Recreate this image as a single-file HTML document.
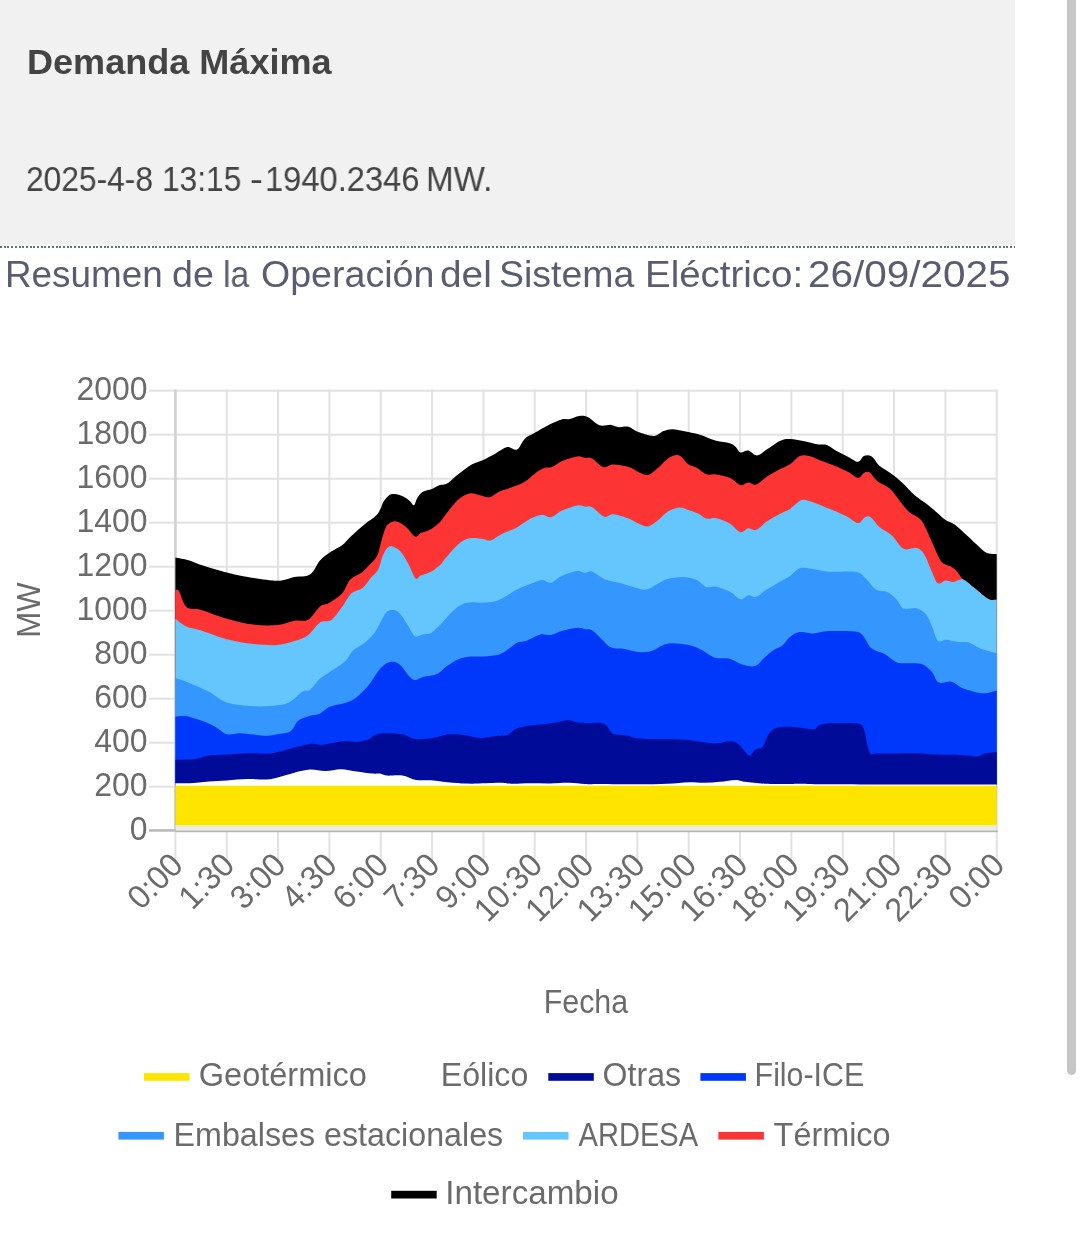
<!DOCTYPE html>
<html>
<head>
<meta charset="utf-8">
<style>
html,body{margin:0;padding:0;background:#fff;}
body{width:1080px;height:1252px;position:relative;overflow:hidden;font-family:"Liberation Sans",sans-serif;}
#panel{position:absolute;left:0;top:0;width:1015px;height:245.4px;background:#f1f1f1;}
#dots{position:absolute;left:0;top:246.2px;width:1015px;height:1.8px;background:repeating-linear-gradient(90deg,#62756b 0,#62756b 2px,rgba(255,255,255,0) 2px,rgba(255,255,255,0) 3.7px);}
.t{position:absolute;white-space:nowrap;transform-origin:0 0;line-height:1;will-change:transform;}
#h1{left:26.5px;top:45.2px;font-size:34.5px;font-weight:bold;color:#444;transform:scaleX(1.045);}
.h2w{top:161.9px;font-size:34.8px;color:#444;}
.h3w{top:256.6px;font-size:36.5px;color:#5a5d71;}
#sb{position:absolute;left:1067px;top:0;width:9px;height:1075px;background:#c6c6c6;border-radius:0 0 4.5px 4.5px;}
svg{position:absolute;left:0;top:0;will-change:transform;}
svg text{font-family:"Liberation Sans",sans-serif;fill:#6b6b6b;}
</style>
</head>
<body>
<div id="panel"></div>
<div id="dots"></div>
<div class="t" id="h1">Demanda Máxima</div>
<div class="t h2w" style="left:26.2px;transform:scaleX(0.9118)">2025-4-8</div>
<div class="t h2w" style="left:161.7px;transform:scaleX(0.9108)">13:15</div>
<div class="t h2w" style="left:249.9px;transform:scaleX(1.1200)">-</div>
<div class="t h2w" style="left:264.8px;transform:scaleX(0.9387)">1940.2346</div>
<div class="t h2w" style="left:426.0px;transform:scaleX(0.9524)">MW.</div>
<div class="t h3w" style="left:4.8px;transform:scaleX(1.0093)">Resumen</div>
<div class="t h3w" style="left:171.8px;transform:scaleX(1.0297)">de</div>
<div class="t h3w" style="left:222.9px;transform:scaleX(0.9269)">la</div>
<div class="t h3w" style="left:260.5px;transform:scaleX(1.0293)">Operación</div>
<div class="t h3w" style="left:440.1px;transform:scaleX(1.0636)">del</div>
<div class="t h3w" style="left:499.3px;transform:scaleX(1.0262)">Sistema</div>
<div class="t h3w" style="left:644.8px;transform:scaleX(1.0535)">Eléctrico:</div>
<div class="t h3w" style="left:808.4px;transform:scaleX(1.1084)">26/09/2025</div>
<div id="sb"></div>
<svg id="chart" width="1080" height="1252" viewBox="0 0 1080 1252">
<!--GRID-->
<rect x="149" y="389.7" width="848.7" height="2" fill="#e2e2e2"/>
<rect x="149" y="433.7" width="848.7" height="2" fill="#e2e2e2"/>
<rect x="149" y="477.7" width="848.7" height="2" fill="#e2e2e2"/>
<rect x="149" y="521.7" width="848.7" height="2" fill="#e2e2e2"/>
<rect x="149" y="565.7" width="848.7" height="2" fill="#e2e2e2"/>
<rect x="149" y="609.7" width="848.7" height="2" fill="#e2e2e2"/>
<rect x="149" y="653.7" width="848.7" height="2" fill="#e2e2e2"/>
<rect x="149" y="697.7" width="848.7" height="2" fill="#e2e2e2"/>
<rect x="149" y="741.7" width="848.7" height="2" fill="#e2e2e2"/>
<rect x="149" y="785.7" width="848.7" height="2" fill="#e2e2e2"/>
<rect x="149" y="829.7" width="848.7" height="2" fill="#e2e2e2"/>
<rect x="174.4" y="389.4" width="2" height="471.1" fill="#e2e2e2"/>
<rect x="225.7" y="389.4" width="2" height="471.1" fill="#e2e2e2"/>
<rect x="277.1" y="389.4" width="2" height="471.1" fill="#e2e2e2"/>
<rect x="328.4" y="389.4" width="2" height="471.1" fill="#e2e2e2"/>
<rect x="379.7" y="389.4" width="2" height="471.1" fill="#e2e2e2"/>
<rect x="431.1" y="389.4" width="2" height="471.1" fill="#e2e2e2"/>
<rect x="482.4" y="389.4" width="2" height="471.1" fill="#e2e2e2"/>
<rect x="533.7" y="389.4" width="2" height="471.1" fill="#e2e2e2"/>
<rect x="585.1" y="389.4" width="2" height="471.1" fill="#e2e2e2"/>
<rect x="636.4" y="389.4" width="2" height="471.1" fill="#e2e2e2"/>
<rect x="687.7" y="389.4" width="2" height="471.1" fill="#e2e2e2"/>
<rect x="739.0" y="389.4" width="2" height="471.1" fill="#e2e2e2"/>
<rect x="790.4" y="389.4" width="2" height="471.1" fill="#e2e2e2"/>
<rect x="841.7" y="389.4" width="2" height="471.1" fill="#e2e2e2"/>
<rect x="893.0" y="389.4" width="2" height="471.1" fill="#e2e2e2"/>
<rect x="944.4" y="389.4" width="2" height="471.1" fill="#e2e2e2"/>
<rect x="995.7" y="389.4" width="2" height="471.1" fill="#e2e2e2"/>
<rect x="174.2" y="389.4" width="2.4" height="441.0" fill="#cfcfcf"/>
<!--/GRID-->
<!--AREAS-->
<path d="M175.4 557.5C177.7 558.0 185.1 559.2 189.4 560.4C193.7 561.6 194.9 562.9 201.1 564.9C207.3 566.9 219.0 570.5 226.8 572.5C234.6 574.5 239.4 575.6 247.8 577.0C256.2 578.4 269.7 580.8 277.5 580.8C285.3 580.8 289.0 578.0 294.4 577.0C299.8 576.0 305.7 577.4 310.0 574.6C314.3 571.9 316.5 564.3 320.0 560.5C323.5 556.7 327.5 554.2 331.2 551.6C334.9 549.0 339.0 547.5 342.4 544.9C345.8 542.3 347.6 539.3 351.3 535.9C355.0 532.5 360.6 527.6 364.7 524.2C368.8 520.9 373.3 518.3 375.9 515.8C378.5 513.3 379.1 511.5 380.4 509.1C381.7 506.7 382.3 503.6 383.8 501.3C385.3 499.0 387.5 496.3 389.4 495.1C391.2 493.9 392.7 493.8 394.9 494.0C397.1 494.2 400.4 495.1 402.8 496.2C405.2 497.3 407.6 499.2 409.5 500.7C411.4 502.2 412.7 505.7 414.0 505.2C415.3 504.7 415.8 500.1 417.3 497.9C418.8 495.6 420.5 493.2 422.9 491.7C425.3 490.2 429.0 490.0 431.9 488.9C434.8 487.8 437.5 485.9 440.0 485.0C442.5 484.1 443.9 485.5 447.0 483.6C450.1 481.8 454.4 477.1 458.6 473.9C462.8 470.7 468.1 466.5 472.2 464.2C476.3 461.9 479.4 461.7 483.3 459.9C487.2 458.1 491.6 455.6 495.6 453.5C499.6 451.4 503.6 447.8 507.2 447.1C510.8 446.5 514.1 451.0 517.0 449.6C519.9 448.2 521.8 441.6 524.7 438.9C527.6 436.1 530.2 435.5 534.4 433.1C538.6 430.7 545.5 426.6 550.0 424.3C554.5 422.0 558.5 420.3 561.7 419.4C564.9 418.5 566.5 419.7 569.4 419.1C572.3 418.5 576.1 416.2 579.2 415.9C582.3 415.6 584.4 415.5 587.8 417.1C591.2 418.7 595.5 424.0 599.4 425.3C603.3 426.6 607.9 424.6 611.1 424.9C614.4 425.2 616.0 426.9 618.9 427.2C621.8 427.5 625.4 426.0 628.6 426.8C631.8 427.6 634.1 430.6 638.3 432.1C642.5 433.6 649.7 436.2 653.9 436.0C658.1 435.8 660.4 432.2 663.6 431.1C666.8 430.0 669.2 429.0 673.3 429.2C677.4 429.4 683.8 431.1 688.3 432.1C692.8 433.1 696.0 433.6 700.6 435.0C705.2 436.4 711.2 439.4 716.1 440.8C721.0 442.2 726.5 442.2 729.7 443.2C733.0 444.2 733.8 445.1 735.6 446.7C737.4 448.2 738.3 451.9 740.4 452.5C742.5 453.1 745.5 450.1 748.2 450.6C751.0 451.1 753.8 455.6 756.9 455.4C760.0 455.2 762.8 452.0 766.7 449.6C770.6 447.2 776.4 442.6 780.3 440.8C784.2 439.0 785.8 438.8 790.0 438.9C794.2 439.0 801.1 440.5 805.6 441.4C810.1 442.3 813.7 443.7 817.2 444.3C820.8 444.9 823.6 443.8 826.9 444.9C830.1 446.0 833.1 449.1 836.7 451.1C840.3 453.1 844.7 455.1 848.3 456.9C851.9 458.7 855.5 461.9 858.1 461.8C860.7 461.7 861.6 456.9 863.9 456.0C866.2 455.1 869.1 455.0 871.7 456.6C874.3 458.2 876.2 462.9 879.4 465.7C882.6 468.5 887.2 470.6 891.1 473.5C895.0 476.4 898.9 479.6 902.8 483.2C906.7 486.8 910.5 491.5 914.4 494.9C918.3 498.3 922.2 500.5 926.1 503.6C930.0 506.7 934.5 510.5 937.8 513.3C941.0 516.0 942.7 518.1 945.6 520.1C948.5 522.1 952.1 522.7 955.3 525.0C958.5 527.3 961.4 530.5 965.0 533.7C968.6 536.9 973.1 541.2 976.7 544.4C980.3 547.6 983.1 551.2 986.4 552.8C989.7 554.4 995.0 554.0 996.7 554.2L996.7 830.4L175.4 830.4Z" fill="#000000"/>
<path d="M175.4 590.6C175.9 590.6 176.8 587.9 178.7 590.6C180.5 593.4 182.8 603.9 186.5 607.1C190.2 610.3 194.4 608.1 201.1 610.0C207.8 611.9 218.1 616.3 226.8 618.7C235.6 621.1 245.2 623.6 253.6 624.6C262.1 625.6 270.7 625.6 277.5 625.0C284.3 624.4 289.3 621.6 294.4 620.7C299.5 619.8 303.7 622.1 308.0 619.7C312.3 617.3 316.5 609.2 320.0 606.4C323.5 603.6 325.2 605.2 328.9 603.0C332.6 600.8 338.8 596.9 342.4 593.0C345.9 589.1 347.0 583.0 350.2 579.6C353.4 576.2 358.2 575.2 361.4 572.8C364.6 570.4 366.6 567.8 369.2 565.0C371.8 562.2 374.9 560.2 377.0 556.1C379.1 552.0 380.0 545.2 381.5 540.4C383.0 535.5 384.3 530.1 386.0 527.0C387.7 523.9 389.6 522.8 391.6 521.9C393.7 521.0 395.9 521.0 398.3 521.9C400.7 522.8 403.3 524.6 406.1 527.0C408.9 529.4 412.7 535.5 415.1 536.5C417.5 537.5 418.1 534.3 420.7 533.1C423.3 531.9 427.5 531.1 430.7 529.2C433.9 527.3 437.3 524.6 440.0 521.9C442.7 519.2 443.9 516.6 447.0 512.8C450.1 509.0 454.7 502.4 458.6 499.2C462.5 495.9 466.7 493.9 470.3 493.3C473.9 492.7 476.8 494.7 480.0 495.3C483.2 495.9 486.5 497.9 489.7 497.2C492.9 496.5 495.8 493.0 499.4 491.4C503.0 489.8 506.9 489.1 511.1 487.5C515.3 485.9 520.8 484.0 524.7 481.7C528.6 479.4 531.1 476.2 534.4 473.9C537.6 471.6 541.3 469.2 544.2 468.1C547.1 467.0 549.0 468.2 551.9 467.1C554.8 466.0 557.5 463.0 561.7 461.2C565.9 459.4 573.3 456.9 577.2 456.4C581.1 455.8 582.6 457.6 585.0 457.9C587.4 458.2 588.7 456.8 591.7 458.3C594.8 459.8 599.7 466.1 603.3 467.1C606.9 468.2 608.9 464.6 613.1 464.6C617.3 464.6 624.4 465.9 628.6 467.1C632.8 468.3 635.0 470.6 638.3 471.9C641.5 473.2 644.9 475.5 648.1 474.9C651.4 474.3 654.2 471.0 657.8 468.1C661.3 465.2 665.8 459.5 669.4 457.4C673.0 455.3 676.1 454.3 679.2 455.4C682.4 456.5 685.4 462.1 688.3 464.2C691.2 466.2 693.7 466.0 696.7 467.7C699.7 469.4 703.2 473.2 706.4 474.3C709.6 475.4 712.2 473.9 716.1 474.5C720.0 475.1 725.7 476.1 729.7 477.8C733.8 479.6 737.3 484.2 740.4 485.0C743.5 485.8 745.6 482.7 748.2 482.6C750.8 482.5 752.9 485.6 756.0 484.6C759.1 483.6 763.0 479.2 766.7 476.8C770.4 474.4 774.4 472.1 778.3 470.0C782.2 467.9 786.4 466.5 790.0 464.2C793.6 461.9 796.5 457.4 799.7 456.0C802.9 454.6 806.1 455.4 809.4 456.0C812.6 456.6 815.0 458.3 819.2 459.9C823.4 461.5 829.9 463.7 834.7 465.7C839.6 467.7 844.4 470.1 848.3 472.1C852.2 474.1 855.5 477.8 858.1 477.9C860.7 478.0 862.0 473.8 863.9 472.9C865.8 472.0 867.4 471.1 869.7 472.5C872.0 473.9 874.2 478.6 877.5 481.2C880.8 483.8 885.6 485.0 889.2 488.1C892.8 491.2 895.7 495.8 898.9 499.7C902.1 503.6 905.0 508.1 908.6 511.4C912.2 514.6 917.4 516.3 920.3 519.2C923.2 522.1 923.8 524.4 926.1 528.9C928.4 533.4 931.3 540.9 933.9 546.4C936.5 551.9 938.8 558.5 941.7 561.9C944.6 565.3 948.8 565.2 951.4 566.8C954.0 568.4 955.3 569.6 957.2 571.7C959.1 573.8 960.1 576.6 963.0 579.4C965.9 582.1 970.5 585.0 974.7 588.2C978.9 591.5 984.6 597.0 988.3 598.9C992.0 600.8 995.3 599.7 996.7 599.9L996.7 830.4L175.4 830.4Z" fill="#fd3434"/>
<path d="M175.4 618.7C177.2 620.0 182.2 624.5 186.5 626.5C190.8 628.5 194.4 628.3 201.1 630.4C207.8 632.5 218.1 636.9 226.8 639.2C235.6 641.5 245.2 643.0 253.6 644.0C262.1 645.0 270.7 645.5 277.5 645.0C284.3 644.5 289.3 642.7 294.4 641.1C299.5 639.5 303.7 638.4 308.0 635.3C312.3 632.2 316.1 625.0 320.0 622.5C323.9 620.0 327.5 622.7 331.2 620.0C334.9 617.3 339.0 610.8 342.4 606.4C345.8 602.0 347.9 596.6 351.3 593.5C354.7 590.4 359.3 590.4 362.5 587.9C365.7 585.4 367.7 581.5 370.3 578.4C372.9 575.3 376.1 573.2 378.2 569.5C380.2 565.8 381.1 559.6 382.6 556.1C384.1 552.6 385.4 549.8 387.1 548.2C388.8 546.6 390.5 546.0 392.7 546.6C394.9 547.2 397.9 548.7 400.5 551.6C403.1 554.5 405.9 559.4 408.4 563.9C410.9 568.4 413.6 576.4 415.6 578.4C417.7 580.4 418.0 576.8 420.7 575.6C423.4 574.4 428.7 573.0 431.9 571.2C435.1 569.4 438.1 566.6 440.0 565.0C441.9 563.4 440.9 563.9 443.0 561.4C445.1 558.9 449.6 553.1 452.8 549.7C456.1 546.3 459.3 543.0 462.5 541.0C465.7 539.0 468.7 538.3 472.2 538.0C475.7 537.7 480.2 538.6 483.3 539.0C486.4 539.4 487.7 541.2 490.7 540.4C493.7 539.6 497.0 536.4 501.4 534.2C505.8 532.0 512.1 530.0 517.0 527.4C521.9 524.8 526.4 520.7 530.6 518.6C534.8 516.5 538.8 514.9 542.2 514.7C545.6 514.5 547.8 517.9 551.0 517.2C554.2 516.6 557.3 512.8 561.7 510.8C566.1 508.8 573.3 506.1 577.2 505.4C581.1 504.7 582.6 506.4 585.0 506.6C587.4 506.9 588.5 505.2 591.7 506.9C594.9 508.6 600.7 515.5 604.3 516.7C607.9 517.9 609.0 514.0 613.1 514.3C617.2 514.6 624.4 517.1 628.6 518.6C632.8 520.1 635.0 522.2 638.3 523.5C641.5 524.8 644.9 526.9 648.1 526.4C651.4 525.9 654.6 523.0 657.8 520.6C661.0 518.2 663.9 514.0 667.5 511.8C671.1 509.6 675.7 507.8 679.2 507.5C682.7 507.2 685.1 508.9 688.3 509.9C691.5 510.9 695.6 512.2 698.6 513.7C701.6 515.2 703.5 517.9 706.4 518.6C709.3 519.4 712.2 517.4 716.1 518.2C720.0 519.0 725.7 521.2 729.7 523.5C733.8 525.8 737.3 531.4 740.4 532.2C743.5 533.0 745.6 528.7 748.2 528.3C750.8 527.9 752.9 531.0 756.0 529.9C759.1 528.8 763.0 524.0 766.7 521.5C770.4 519.0 774.4 516.8 778.3 514.7C782.2 512.6 786.1 511.3 790.0 508.9C793.9 506.5 798.1 501.3 801.7 500.1C805.3 498.9 806.9 500.3 811.4 501.7C815.9 503.1 823.1 506.1 828.9 508.5C834.7 510.9 841.5 513.8 846.4 516.2C851.3 518.6 855.0 522.9 858.1 523.1C861.2 523.3 862.8 518.2 864.9 517.2C867.0 516.2 868.3 515.6 870.7 517.2C873.1 518.8 876.0 524.0 879.4 526.9C882.8 529.8 887.0 531.1 891.1 534.7C895.2 538.3 899.5 546.5 903.7 548.7C907.9 550.9 913.0 547.0 916.4 547.9C919.8 548.8 921.6 550.2 924.2 554.2C926.8 558.2 929.6 566.9 931.9 571.7C934.2 576.6 935.5 581.8 937.8 583.3C940.1 584.8 943.0 580.6 945.6 580.4C948.2 580.2 950.4 582.2 953.3 582.0C956.2 581.8 959.4 578.4 963.0 579.4C966.6 580.4 970.5 585.0 974.7 588.2C978.9 591.5 984.6 597.0 988.3 598.9C992.0 600.8 995.3 599.7 996.7 599.9L996.7 830.4L175.4 830.4Z" fill="#65c6fe"/>
<path d="M175.4 678.0C177.7 678.8 183.8 680.6 189.4 682.9C195.0 685.2 202.7 688.5 208.9 691.7C215.1 695.0 219.4 700.0 226.8 702.4C234.2 704.8 245.2 705.7 253.6 706.2C262.1 706.7 271.3 706.1 277.5 705.3C283.7 704.5 286.5 703.7 290.6 701.4C294.7 699.1 299.0 693.7 302.2 691.7C305.4 689.8 307.1 691.8 310.0 689.7C312.9 687.6 316.5 681.9 319.7 679.0C322.9 676.1 325.2 675.1 329.4 672.2C333.6 669.3 341.1 665.1 345.0 661.5C348.9 657.9 349.6 653.9 352.8 650.8C356.0 647.7 360.8 645.9 364.4 643.0C368.0 640.1 371.5 636.8 374.2 633.3C376.9 629.8 378.7 625.3 380.8 621.7C382.9 618.1 384.6 613.9 386.7 611.9C388.8 609.9 391.2 609.7 393.5 610.0C395.8 610.3 397.9 611.3 400.3 613.9C402.7 616.5 405.6 621.9 408.0 625.6C410.4 629.3 412.3 634.8 414.9 636.2C417.5 637.7 420.8 634.9 423.6 634.3C426.4 633.7 428.6 634.5 431.8 632.4C435.0 630.3 439.5 625.3 443.0 621.7C446.5 618.1 449.6 613.9 452.8 611.0C456.1 608.1 459.3 605.7 462.5 604.2C465.7 602.7 468.7 602.5 472.2 602.2C475.7 601.9 479.4 602.8 483.3 602.6C487.2 602.4 491.6 602.4 495.6 601.2C499.6 600.0 503.6 597.3 507.2 595.4C510.8 593.5 513.1 591.5 517.0 589.6C520.9 587.7 526.4 585.4 530.6 583.8C534.8 582.2 538.8 580.1 542.2 579.9C545.6 579.7 547.8 583.4 551.0 582.8C554.2 582.1 557.3 578.0 561.7 576.0C566.1 574.0 573.3 571.6 577.2 571.1C581.1 570.6 582.6 573.0 585.0 573.1C587.4 573.2 588.5 570.5 591.7 571.5C594.9 572.5 599.8 577.0 604.3 578.9C608.8 580.8 614.2 581.5 618.9 582.8C623.6 584.1 628.0 585.6 632.5 586.7C637.0 587.8 641.9 590.1 646.1 589.6C650.3 589.1 654.2 585.6 657.8 583.8C661.4 582.0 663.3 580.0 667.5 578.9C671.7 577.8 678.1 576.7 683.0 576.9C687.9 577.1 692.8 578.2 696.7 579.9C700.6 581.6 703.2 585.9 706.4 587.0C709.6 588.1 712.2 586.0 716.1 586.7C720.0 587.5 725.7 589.4 729.7 591.5C733.8 593.6 737.3 598.6 740.4 599.3C743.5 599.9 745.6 595.8 748.2 595.4C750.8 595.0 752.9 597.8 756.0 596.8C759.1 595.8 763.0 591.9 766.7 589.6C770.4 587.3 774.4 585.1 778.3 582.8C782.2 580.5 786.4 578.4 790.0 576.0C793.6 573.6 796.1 569.4 799.7 568.2C803.3 567.0 806.5 568.1 811.4 568.7C816.3 569.3 821.4 571.2 828.9 571.7C836.4 572.2 850.0 570.9 856.1 572.0C862.2 573.1 862.5 575.6 865.8 578.5C869.0 581.4 872.0 586.9 875.6 589.2C879.2 591.5 883.7 590.3 887.2 592.1C890.8 593.9 894.1 597.1 896.9 599.9C899.6 602.6 900.5 607.2 903.7 608.6C907.0 610.0 912.7 607.2 916.4 608.2C920.1 609.2 923.5 611.4 926.1 614.4C928.7 617.4 930.0 621.7 931.9 626.1C933.8 630.5 935.5 638.4 937.8 640.7C940.1 643.0 942.4 639.5 945.6 639.7C948.8 639.9 953.3 641.2 957.2 641.7C961.1 642.2 965.0 641.5 968.9 642.6C972.8 643.7 976.0 646.7 980.6 648.5C985.2 650.3 994.0 652.5 996.7 653.3L996.7 830.4L175.4 830.4Z" fill="#3596fd"/>
<path d="M175.4 716.7C177.1 716.6 181.3 715.5 185.6 716.1C189.9 716.8 196.2 718.9 201.1 720.6C205.9 722.3 210.4 724.1 214.7 726.4C219.0 728.7 222.6 733.1 226.8 734.2C231.0 735.3 235.5 733.1 240.0 733.2C244.5 733.3 249.1 734.2 253.6 734.6C258.1 735.0 263.2 735.8 267.2 735.7C271.2 735.6 273.6 735.0 277.5 734.2C281.4 733.5 287.1 733.5 290.6 731.2C294.1 728.9 295.1 723.2 298.3 720.6C301.5 718.0 306.4 716.9 310.0 715.7C313.6 714.6 316.5 715.2 319.7 713.7C322.9 712.2 325.2 708.7 329.4 706.9C333.6 705.1 340.4 704.7 345.0 703.1C349.6 701.5 352.8 700.1 356.7 697.2C360.6 694.3 365.2 689.2 368.3 685.6C371.4 682.0 372.9 678.7 375.0 675.8C377.1 672.9 378.9 670.2 380.8 668.1C382.8 666.0 384.6 664.2 386.7 663.2C388.8 662.2 391.2 661.5 393.5 661.8C395.8 662.1 397.9 662.9 400.3 665.1C402.7 667.3 405.6 672.4 408.0 674.9C410.4 677.4 412.3 679.8 414.9 680.1C417.5 680.4 419.9 677.8 423.6 676.8C427.3 675.8 433.3 675.7 437.2 673.9C441.1 672.1 443.4 668.5 447.0 666.1C450.6 663.7 455.1 660.8 458.6 659.3C462.2 657.8 464.2 657.3 468.3 656.8C472.4 656.3 478.1 656.8 483.3 656.4C488.5 656.0 495.1 655.7 499.4 654.4C503.7 653.1 506.3 650.5 509.2 648.6C512.1 646.7 514.1 644.1 517.0 642.8C519.9 641.5 522.8 642.2 526.7 640.8C530.6 639.4 536.2 635.6 540.3 634.6C544.3 633.6 547.4 635.6 551.0 635.0C554.6 634.4 557.3 632.3 561.7 631.1C566.1 629.9 573.3 628.1 577.2 627.8C581.1 627.5 582.6 628.8 585.0 629.2C587.4 629.6 589.0 628.5 591.7 630.1C594.4 631.7 598.2 636.0 601.4 638.9C604.6 641.8 607.2 645.9 611.1 647.6C615.0 649.3 620.2 648.2 624.7 649.0C629.2 649.8 633.8 651.8 638.3 652.1C642.8 652.4 648.0 652.0 651.9 650.9C655.8 649.8 658.5 647.0 661.7 645.7C665.0 644.4 666.9 643.3 671.4 643.2C675.9 643.1 684.0 644.0 688.9 645.1C693.8 646.2 696.4 647.6 700.6 649.6C704.8 651.6 709.4 655.9 714.2 657.4C719.1 658.9 725.2 657.6 729.7 658.7C734.2 659.8 737.2 663.0 741.4 664.2C745.6 665.4 751.1 667.2 755.0 666.1C758.9 665.0 761.5 660.1 764.7 657.4C767.9 654.6 771.5 651.5 774.4 649.6C777.3 647.7 779.6 647.8 782.2 645.7C784.8 643.6 787.1 639.2 790.0 636.9C792.9 634.6 795.8 632.7 799.7 632.1C803.6 631.5 808.4 633.6 813.3 633.4C818.2 633.2 821.8 631.4 828.9 631.1C836.0 630.8 850.3 630.7 856.1 631.7C861.9 632.7 861.3 634.1 863.9 636.9C866.5 639.7 868.1 645.7 871.7 648.6C875.3 651.5 881.1 652.1 885.3 654.4C889.5 656.7 893.3 661.1 896.9 662.6C900.5 664.1 902.5 662.9 906.7 663.2C910.9 663.5 918.0 662.8 922.2 664.2C926.4 665.7 929.1 668.8 931.9 671.9C934.7 675.0 935.5 681.0 938.8 682.6C942.0 684.2 947.7 680.9 951.4 681.7C955.1 682.5 957.5 685.9 961.1 687.5C964.7 689.1 968.9 690.4 972.8 691.4C976.7 692.4 980.4 693.5 984.4 693.3C988.4 693.1 994.7 690.9 996.7 690.4L996.7 830.4L175.4 830.4Z" fill="#0038fb"/>
<path d="M175.4 759.8C178.7 759.7 189.7 759.7 195.3 759.0C200.9 758.3 203.7 756.3 208.9 755.6C214.2 754.9 220.3 755.0 226.8 754.6C233.3 754.2 241.1 753.4 247.8 753.2C254.5 753.0 262.2 753.8 267.2 753.6C272.1 753.4 273.0 753.0 277.5 752.0C282.0 751.0 289.0 748.8 294.4 747.4C299.8 746.0 305.4 744.3 310.0 743.9C314.6 743.5 318.5 745.0 321.7 744.9C324.9 744.8 325.5 744.1 329.4 743.5C333.3 742.9 340.4 741.3 345.0 741.0C349.6 740.7 352.8 742.1 356.7 741.9C360.6 741.7 365.2 740.7 368.3 739.6C371.4 738.5 372.3 736.2 375.0 735.1C377.7 734.0 380.2 733.4 384.7 733.2C389.2 733.1 397.0 733.2 402.2 734.2C407.4 735.2 410.6 738.4 415.8 739.0C421.0 739.6 428.1 738.8 433.3 738.1C438.5 737.4 441.8 735.1 447.0 734.6C452.2 734.1 458.9 734.5 464.4 735.1C469.9 735.7 474.8 737.9 480.0 738.1C485.2 738.3 491.1 736.6 495.6 736.1C500.1 735.6 503.6 736.4 507.2 735.1C510.8 733.8 513.1 729.9 517.0 728.3C520.9 726.7 525.1 726.2 530.6 725.4C536.1 724.6 543.9 724.4 550.0 723.5C556.1 722.6 563.0 720.4 567.5 720.2C572.0 720.0 574.3 722.0 577.2 722.5C580.1 723.0 581.0 722.8 585.0 722.9C589.0 723.0 597.7 722.3 601.4 722.9C605.1 723.5 605.2 724.6 607.2 726.4C609.2 728.2 609.9 732.3 613.1 733.8C616.4 735.3 622.5 734.7 626.7 735.5C630.9 736.3 631.5 737.8 638.3 738.4C645.1 739.0 659.1 738.7 667.5 739.0C675.9 739.3 682.1 739.4 688.9 740.0C695.7 740.6 703.1 742.4 708.3 742.9C713.5 743.4 716.1 743.2 720.0 742.9C723.9 742.6 728.5 740.7 731.7 741.0C734.9 741.3 736.5 742.5 739.4 744.9C742.3 747.3 746.6 754.8 749.2 755.6C751.8 756.4 752.7 751.2 755.0 749.7C757.3 748.2 760.5 749.4 762.8 746.8C765.1 744.2 766.3 737.4 768.6 734.2C770.9 731.1 772.8 729.1 776.4 727.9C780.0 726.7 785.5 726.7 790.0 726.8C794.5 726.9 799.6 727.9 803.6 728.3C807.6 728.7 811.4 729.9 814.3 729.3C817.2 728.6 816.7 725.4 821.1 724.4C825.5 723.4 834.4 723.2 840.6 723.1C846.8 723.0 854.2 722.5 858.1 723.5C862.0 724.5 862.0 724.4 863.9 729.3C865.8 734.1 867.4 748.5 869.7 752.6C872.0 756.7 869.7 753.5 877.5 753.6C885.3 753.7 906.4 753.0 916.4 753.2C926.4 753.4 929.7 754.3 937.8 754.6C945.9 754.9 958.4 754.9 965.0 755.2C971.6 755.5 974.4 756.8 977.6 756.5C980.8 756.2 981.2 754.4 984.4 753.6C987.6 752.9 994.7 752.3 996.7 752.0L996.7 830.4L175.4 830.4Z" fill="#000b97"/>
<path d="M175.4 783.2C177.7 783.2 183.8 783.5 189.4 783.2C195.0 782.9 202.7 781.9 208.9 781.4C215.1 780.9 220.3 780.8 226.8 780.4C233.3 780.0 241.1 779.2 247.8 779.1C254.5 779.0 262.2 779.8 267.2 779.5C272.1 779.2 273.0 778.6 277.5 777.5C282.0 776.4 289.0 774.0 294.4 772.7C299.8 771.4 304.8 769.9 310.0 769.6C315.2 769.3 320.4 771.2 325.6 771.1C330.8 771.0 335.9 769.1 341.1 769.2C346.3 769.3 351.5 770.8 356.7 771.5C361.9 772.2 368.3 773.2 372.2 773.6C376.1 774.0 377.6 773.3 380.0 773.6C382.4 773.9 383.0 775.3 386.7 775.6C390.4 775.9 397.3 774.9 402.2 775.6C407.1 776.3 410.6 779.1 415.8 779.9C421.0 780.7 427.1 779.9 433.3 780.4C439.5 780.9 446.3 782.2 452.8 782.8C459.3 783.3 464.4 783.7 472.2 783.7C480.0 783.7 492.9 782.8 499.4 782.8C505.9 782.8 505.9 783.6 511.1 783.7C516.3 783.8 524.1 783.2 530.6 783.2C537.1 783.2 543.5 783.5 550.0 783.4C556.5 783.3 563.6 782.7 569.4 782.8C575.2 782.9 580.0 783.9 585.0 784.1C590.0 784.3 590.5 783.9 599.4 783.9C608.3 783.9 626.9 784.3 638.3 784.3C649.6 784.3 659.1 784.1 667.5 783.7C675.9 783.4 682.8 782.4 688.9 782.2C695.0 782.1 699.2 782.9 704.4 782.8C709.6 782.7 714.8 782.3 720.0 781.8C725.2 781.3 731.4 779.9 735.6 779.9C739.8 779.9 740.4 781.2 745.3 781.8C750.1 782.4 757.2 783.4 764.7 783.7C772.2 784.1 784.1 783.9 790.0 783.9C795.9 783.9 793.3 783.6 800.0 783.7C806.7 783.8 813.3 784.2 830.0 784.3C846.7 784.4 872.2 784.5 900.0 784.5C927.8 784.5 980.6 784.5 996.7 784.5L996.7 830.4L175.4 830.4Z" fill="#ffffff"/>
<rect x="175.4" y="785.7" width="821.3" height="39.3" fill="#fde500"/>
<rect x="175.4" y="825.0" width="821.3" height="6.0" fill="#eaece6"/>
<rect x="175.4" y="825.0" width="821.3" height="1.2" fill="#f3ef9a"/>
<!--/AREAS-->
<!--AXES-->
<rect x="149" y="829.2" width="26.4" height="2.4" fill="#b9b9b9"/>
<rect x="175.4" y="830.6" width="822.3" height="1.6" fill="#b4b4b4"/>
<!--/AXES-->
<!--LABELS-->
<text transform="translate(147.6 400.0) scale(0.962 1)" font-size="33.2" text-anchor="end">2000</text>
<text transform="translate(147.6 444.0) scale(0.962 1)" font-size="33.2" text-anchor="end">1800</text>
<text transform="translate(147.6 488.0) scale(0.962 1)" font-size="33.2" text-anchor="end">1600</text>
<text transform="translate(147.6 532.0) scale(0.962 1)" font-size="33.2" text-anchor="end">1400</text>
<text transform="translate(147.6 576.0) scale(0.962 1)" font-size="33.2" text-anchor="end">1200</text>
<text transform="translate(147.6 620.0) scale(0.962 1)" font-size="33.2" text-anchor="end">1000</text>
<text transform="translate(147.6 664.0) scale(0.962 1)" font-size="33.2" text-anchor="end">800</text>
<text transform="translate(147.6 708.0) scale(0.962 1)" font-size="33.2" text-anchor="end">600</text>
<text transform="translate(147.6 752.0) scale(0.962 1)" font-size="33.2" text-anchor="end">400</text>
<text transform="translate(147.6 796.0) scale(0.962 1)" font-size="33.2" text-anchor="end">200</text>
<text transform="translate(147.6 840.0) scale(0.962 1)" font-size="33.2" text-anchor="end">0</text>
<text transform="translate(39.8 610) rotate(-90) scale(0.95 1)" font-size="32.8" text-anchor="middle">MW</text>
<text transform="translate(184.9 867) rotate(-45) scale(0.962 1)" font-size="33.2" text-anchor="end">0:00</text>
<text transform="translate(236.2 867) rotate(-45) scale(0.962 1)" font-size="33.2" text-anchor="end">1:30</text>
<text transform="translate(287.6 867) rotate(-45) scale(0.962 1)" font-size="33.2" text-anchor="end">3:00</text>
<text transform="translate(338.9 867) rotate(-45) scale(0.962 1)" font-size="33.2" text-anchor="end">4:30</text>
<text transform="translate(390.2 867) rotate(-45) scale(0.962 1)" font-size="33.2" text-anchor="end">6:00</text>
<text transform="translate(441.6 867) rotate(-45) scale(0.962 1)" font-size="33.2" text-anchor="end">7:30</text>
<text transform="translate(492.9 867) rotate(-45) scale(0.962 1)" font-size="33.2" text-anchor="end">9:00</text>
<text transform="translate(544.2 867) rotate(-45) scale(0.962 1)" font-size="33.2" text-anchor="end">10:30</text>
<text transform="translate(595.6 867) rotate(-45) scale(0.962 1)" font-size="33.2" text-anchor="end">12:00</text>
<text transform="translate(646.9 867) rotate(-45) scale(0.962 1)" font-size="33.2" text-anchor="end">13:30</text>
<text transform="translate(698.2 867) rotate(-45) scale(0.962 1)" font-size="33.2" text-anchor="end">15:00</text>
<text transform="translate(749.5 867) rotate(-45) scale(0.962 1)" font-size="33.2" text-anchor="end">16:30</text>
<text transform="translate(800.9 867) rotate(-45) scale(0.962 1)" font-size="33.2" text-anchor="end">18:00</text>
<text transform="translate(852.2 867) rotate(-45) scale(0.962 1)" font-size="33.2" text-anchor="end">19:30</text>
<text transform="translate(903.5 867) rotate(-45) scale(0.962 1)" font-size="33.2" text-anchor="end">21:00</text>
<text transform="translate(954.9 867) rotate(-45) scale(0.962 1)" font-size="33.2" text-anchor="end">22:30</text>
<text transform="translate(1006.2 867) rotate(-45) scale(0.962 1)" font-size="33.2" text-anchor="end">0:00</text>
<text transform="translate(585.9 1013.2) scale(0.922 1)" font-size="33" text-anchor="middle">Fecha</text>
<!--/LABELS-->
<!--LEGEND-->
<rect x="144.0" y="1073.1" width="45.5" height="7.7" fill="#fde500"/>
<text x="198.8" y="1086.4" font-size="32.6" textLength="168.0" lengthAdjust="spacingAndGlyphs">Geotérmico</text>
<text x="440.8" y="1086.4" font-size="32.6" textLength="87.5" lengthAdjust="spacingAndGlyphs">Eólico</text>
<rect x="548.3" y="1073.1" width="45.5" height="7.7" fill="#000b97"/>
<text x="602.6" y="1086.4" font-size="32.6" textLength="78.5" lengthAdjust="spacingAndGlyphs">Otras</text>
<rect x="700.4" y="1073.1" width="45.5" height="7.7" fill="#0038fb"/>
<text x="754.6" y="1086.4" font-size="32.6" textLength="109.6" lengthAdjust="spacingAndGlyphs">Filo-ICE</text>
<rect x="118.4" y="1131.9" width="45.5" height="7.7" fill="#3596fd"/>
<text x="173.6" y="1145.6" font-size="32.6" textLength="329.6" lengthAdjust="spacingAndGlyphs">Embalses estacionales</text>
<rect x="523.0" y="1131.9" width="45.5" height="7.7" fill="#65c6fe"/>
<text x="578.6" y="1145.6" font-size="32.6" textLength="119.5" lengthAdjust="spacingAndGlyphs">ARDESA</text>
<rect x="718.4" y="1131.9" width="45.5" height="7.7" fill="#fd3434"/>
<text x="773.6" y="1145.6" font-size="32.6" textLength="117.0" lengthAdjust="spacingAndGlyphs">Térmico</text>
<rect x="391.2" y="1190.8" width="45.5" height="7.7" fill="#000000"/>
<text x="445.2" y="1204.2" font-size="32.6" textLength="173.5" lengthAdjust="spacingAndGlyphs">Intercambio</text>
<!--/LEGEND-->
</svg>
</body>
</html>
